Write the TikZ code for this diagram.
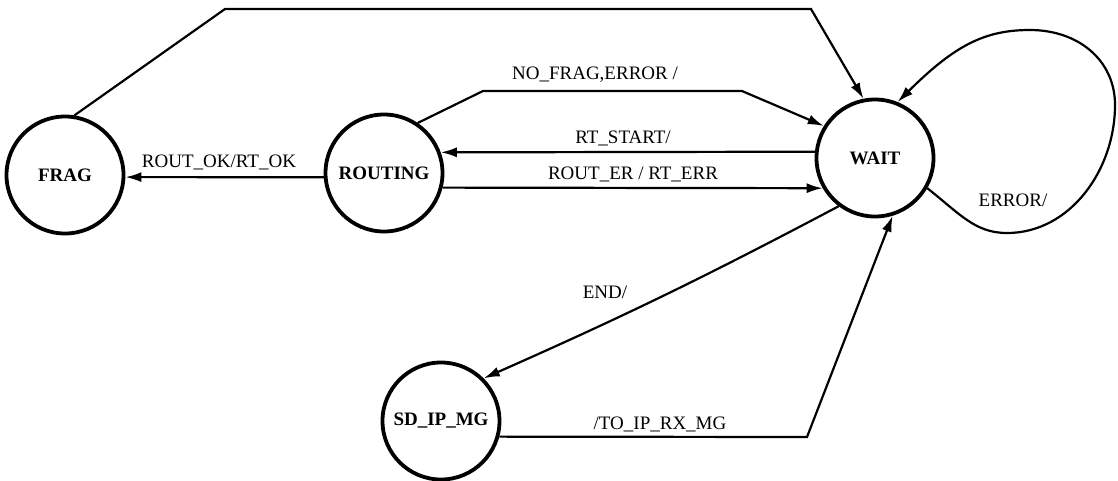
\documentclass[tikz,border=0pt]{standalone}
\usepackage{fontspec}
\setmainfont{Liberation Serif}
\usetikzlibrary{arrows.meta}
\begin{document}
\begin{tikzpicture}[x=1pt,y=-1pt,
  state/.style={circle,draw,line width=3.8pt,minimum size=117pt,inner sep=0pt,
    font=\fontsize{19}{22}\selectfont\bfseries},
  trans/.style={line width=2.2pt,-{Latex[length=16pt,width=10pt]}},
  lbl/.style={font=\fontsize{19}{22}\selectfont,inner sep=1pt}]
\useasboundingbox (0,0) rectangle (1118,480);

\node[state] (frag) at (65,175) {FRAG};
\node[state] (routing) at (384,173) {ROUTING};
\node[state] (wait) at (875,158) {WAIT};
\node[state] (sd) at (441,421) {SD\_IP\_MG};

% FRAG -> WAIT (top)
\coordinate (t1) at (225,9);
\coordinate (t2) at (811,9);
\draw[trans] (frag.81) -- (t1) -- (t2) -- (wait.101);

% ROUTING -> WAIT  NO_FRAG,ERROR /
\coordinate (n1) at (483,91);
\coordinate (n2) at (742,91);
\draw[trans] (routing.56) -- (n1) -- (n2) -- (wait.148);
\node[lbl] (lnofrag) at (595,75) {NO\_FRAG,ERROR /};

% WAIT -> ROUTING  RT_START/
\draw[trans] (wait.174.3) -- (routing.20.5);
\node[lbl] (lrtstart) at (623,138) {RT\_START/};

% ROUTING -> WAIT  ROUT_ER / RT_ERR
\draw[trans] (routing.-14.5) -- (wait.210);
\node[lbl] (lrouter) at (633,174) {ROUT\_ER / RT\_ERR};

% ROUTING -> FRAG  ROUT_OK/RT_OK
\draw[trans] (routing.184) -- (frag.-2);
\node[lbl] (lroutok) at (219,162) {ROUT\_OK/RT\_OK};

% WAIT -> SD_IP_MG  END/
\draw[trans] (wait.233) to[bend left=2] (sd.45);
\node[lbl] (lend) at (605,292) {END/};

% SD_IP_MG -> WAIT  /TO_IP_RX_MG
\coordinate (s1) at (807,437);
\draw[trans] (sd.-15.5) -- (s1) -- (wait.-73.6);
\node[lbl] (lto) at (660,424) {/TO\_IP\_RX\_MG};

% WAIT self loop  ERROR/
\coordinate (e1) at (1007,233);
\coordinate (e2) at (1115,105);
\coordinate (e3) at (1030,30);
\draw[trans] (wait.-30) .. controls (960,214) and (975,233) .. (e1)
  .. controls (1070,233) and (1115,170) .. (e2)
  .. controls (1115,60) and (1078,30) .. (e3)
  .. controls (985,30) and (955,45) .. (wait.68);
\node[lbl] (lerror) at (1013,200) {ERROR/};
\end{tikzpicture}
\end{document}
